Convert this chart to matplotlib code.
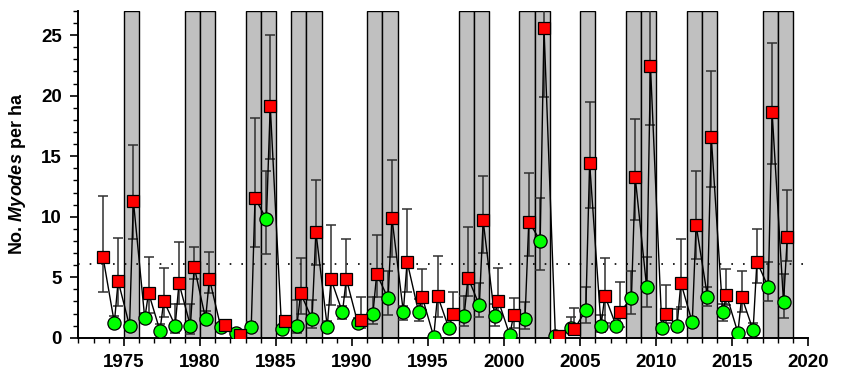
import numpy as np
import matplotlib
matplotlib.use("Agg")
import matplotlib.pyplot as plt
from matplotlib.ticker import MultipleLocator

plt.rcParams["font.family"] = ["Liberation Sans", "DejaVu Sans"]
plt.rcParams["mathtext.fontset"] = "custom"
plt.rcParams["mathtext.it"] = "Liberation Sans:bold:italic"
plt.rcParams["mathtext.rm"] = "Liberation Sans:bold"

# ── Data ─────────────────────────────────────────────────────────────────────
# autumn densities (red squares), 1973-2018
autumn_years = np.arange(1973, 2019)
autumn = [6.70, 4.69, 11.34, 3.72, 3.06, 4.50, 5.88, 4.88, 1.08, 0.20,
          11.54, 19.18, 1.41, 3.67, 8.77, 4.83, 4.88, 1.46, 5.27, 9.93,
          6.29, 3.34, 3.48, 1.96, 4.97, 9.69, 3.06, 1.88, 9.60, 25.60,
          0.14, 0.72, 14.43, 3.48, 2.10, 13.25, 22.49, 1.96, 4.55, 9.33,
          16.58, 3.53, 3.39, 6.29, 18.63, 8.36]
autumn_lo = [3.81, 2.65, 8.14, 2.07, 1.74, 2.79, 4.83, 3.67, 0.90, 0.10,
             7.50, 14.76, 1.05, 2.00, 6.00, 2.71, 3.40, 0.78, 3.40, 6.70,
             3.81, 2.30, 1.74, 1.60, 3.45, 6.98, 1.90, 0.77, 6.79, 19.87,
             0.05, 0.45, 10.70, 1.19, 0.91, 9.74, 17.60, 1.24, 2.57, 6.48,
             12.45, 2.70, 2.10, 4.50, 14.35, 6.35]
autumn_hi = [11.73, 8.28, 15.90, 6.70, 5.74, 7.92, 7.54, 7.06, 1.30, 0.30,
             18.16, 25.00, 1.60, 6.57, 13.02, 9.33, 8.17, 3.40, 8.47, 14.70,
             10.62, 5.65, 6.79, 3.75, 9.19, 13.40, 5.80, 3.26, 13.60, 32.00,
             0.20, 2.48, 19.48, 6.57, 4.64, 18.07, 29.00, 4.36, 8.14, 13.74,
             22.00, 5.66, 5.55, 8.97, 24.37, 12.22]

# spring densities (green circles), 1974-2018
spring_years = np.arange(1974, 2019)
spring = [1.24, 0.97, 1.60, 0.58, 1.00, 1.00, 1.57, 0.86, 0.42, 0.86,
          9.80, 0.69, 0.97, 1.55, 0.91, 2.10, 1.24, 1.96, 3.26, 2.15,
          2.15, 0.09, 0.78, 1.82, 2.70, 1.80, 0.22, 1.52, 8.03, 0.14,
          0.77, 2.29, 0.99, 0.97, 3.31, 4.17, 0.83, 0.99, 1.27, 3.39,
          2.10, 0.41, 0.63, 4.17, 2.92]
spring_lo = [1.00, 0.80, 1.30, 0.40, 0.40, 0.35, 1.20, 0.70, 0.30, 0.50,
             6.93, 0.50, 0.36, 0.78, 0.60, 1.52, 0.90, 1.10, 1.88, 1.47,
             1.40, 0.00, 0.50, 1.00, 1.74, 1.00, 0.10, 0.69, 5.60, 0.05,
             0.50, 1.19, 0.44, 0.70, 1.93, 2.57, 0.60, 0.60, 0.90, 2.62,
             1.38, 0.20, 0.40, 3.04, 1.60]
spring_hi = [1.80, 1.30, 2.07, 1.10, 2.80, 2.80, 2.20, 1.10, 0.60, 1.30,
             13.74, 1.00, 3.10, 3.10, 1.40, 2.60, 1.60, 3.40, 5.51, 2.60,
             3.20, 0.20, 1.10, 3.48, 4.55, 2.80, 0.40, 2.92, 11.53, 0.25,
             1.74, 4.22, 1.90, 1.30, 5.55, 6.71, 1.10, 2.40, 1.70, 4.20,
             2.80, 0.70, 1.20, 6.29, 5.27]

# years shaded grey
peak_years = [1975, 1979, 1980, 1983, 1984, 1986, 1987, 1991, 1992, 1997,
              1998, 2001, 2002, 2005, 2008, 2009, 2012, 2013, 2017, 2018]
threshold = 6.1

# ── Figure ───────────────────────────────────────────────────────────────────
fig = plt.figure(figsize=(8.42, 3.77), dpi=100)
ax = fig.add_axes([0.093, 0.104, 0.867, 0.867])

for yr in peak_years:
    ax.axvspan(yr, yr + 1, facecolor="#c0c0c0", edgecolor="black",
               lw=1.0, zorder=0)

ax.axhline(threshold, color="black", lw=1.2, ls=(0, (1, 6)), zorder=1)

xs_sp = spring_years + 0.37
xs_au = autumn_years + 0.62

# chronological zig-zag line
t = np.concatenate([xs_sp, xs_au])
v = np.concatenate([spring, autumn])
order = np.argsort(t)
ax.plot(t[order], v[order], color="black", lw=1.0, zorder=3)

sp = np.array(spring)
au = np.array(autumn)
ax.errorbar(xs_sp, sp, yerr=[sp - np.array(spring_lo), np.array(spring_hi) - sp],
            fmt="none", ecolor="#303030", elinewidth=1.1, capsize=3.8,
            capthick=1.1, zorder=2)
ax.errorbar(xs_au, au, yerr=[au - np.array(autumn_lo), np.array(autumn_hi) - au],
            fmt="none", ecolor="#303030", elinewidth=1.1, capsize=3.8,
            capthick=1.1, zorder=2)

ax.plot(xs_sp, sp, "o", ms=9.5, mfc="#00ff00", mec="black", mew=0.9, zorder=4)
ax.plot(xs_au, au, "s", ms=8.8, mfc="#ff0000", mec="black", mew=0.9, zorder=5)

ax.set_xlim(1972, 2020)
ax.set_ylim(0, 27)
ax.xaxis.set_major_locator(MultipleLocator(5))
ax.xaxis.set_minor_locator(MultipleLocator(1))
ax.yaxis.set_major_locator(MultipleLocator(5))
ax.yaxis.set_minor_locator(MultipleLocator(1))
ax.set_xticks([1975, 1980, 1985, 1990, 1995, 2000, 2005, 2010, 2015, 2020])

ax.spines["top"].set_visible(False)
ax.spines["right"].set_visible(False)
for s in ("left", "bottom"):
    ax.spines[s].set_linewidth(1.4)
ax.tick_params(which="major", direction="out", length=6, width=1.2,
               labelsize=13.5, pad=6)
ax.tick_params(which="minor", direction="out", length=3.5, width=1.0)
for lab in ax.get_xticklabels() + ax.get_yticklabels():
    lab.set_fontweight("bold")

ax.set_ylabel(r"No. $\mathit{Myodes}$ per ha", fontsize=13,
              fontweight="bold", labelpad=9)

fig.savefig("out.png", dpi=100, facecolor="white")
